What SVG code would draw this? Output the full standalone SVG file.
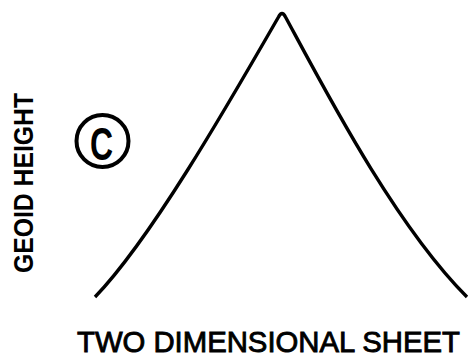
<svg xmlns="http://www.w3.org/2000/svg" width="470" height="359" viewBox="0 0 470 359">
<style>
.curve{fill:none;stroke:#000;stroke-width:3.4;stroke-linejoin:round;stroke-linecap:butt}
.lbl{font-family:"Liberation Sans",Arial,sans-serif;fill:#000}
</style>
<rect width="470" height="359" fill="#fff"/>
<g id="curve">
<path class="curve" d="M95,297 C150,240 225,110 278.5,17 Q282,10 285.5,17 C325,90 395,225 467,297"/>
</g>
<g id="panel-label">
<circle cx="102.5" cy="141" r="26" fill="none" stroke="#000" stroke-width="4"/>
<text class="lbl" font-weight="bold" font-size="47" text-anchor="middle" transform="translate(101.5,160) scale(0.68,1)">C</text>
</g>
<g id="y-axis-label">
<text class="lbl" font-weight="bold" font-size="28" text-anchor="middle" transform="translate(33,183) rotate(-90)" textLength="180" lengthAdjust="spacingAndGlyphs">GEOID HEIGHT</text>
</g>
<g id="x-axis-label">
<text class="lbl" x="77" y="352" font-size="30" stroke="#000" stroke-width="0.9" textLength="383" lengthAdjust="spacingAndGlyphs">TWO DIMENSIONAL SHEET</text>
</g>
</svg>
